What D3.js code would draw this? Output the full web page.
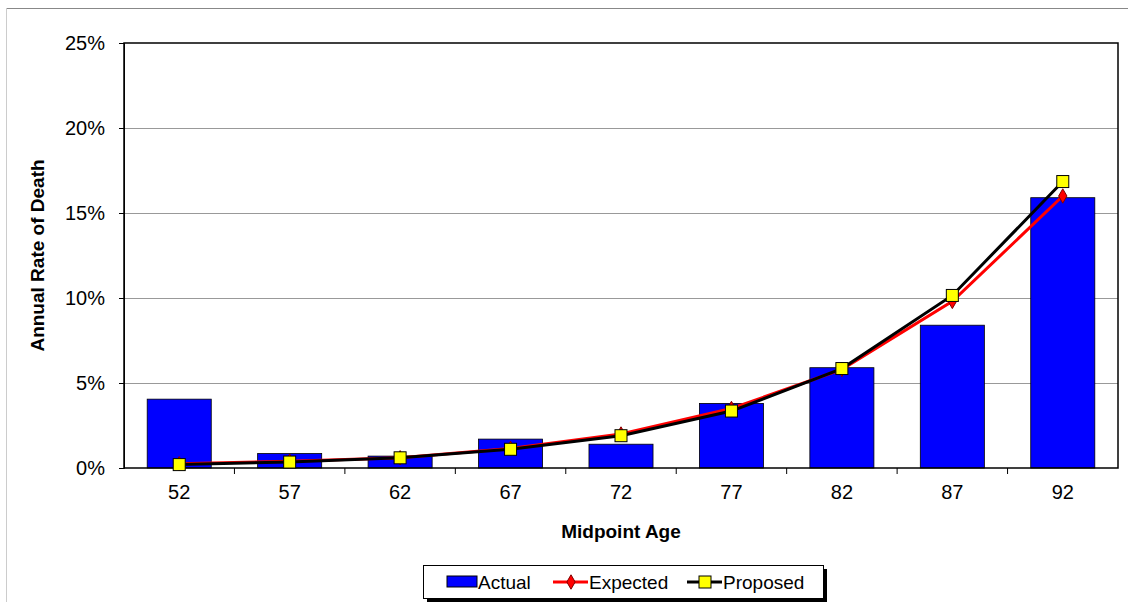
<!DOCTYPE html>
<html><head><meta charset="utf-8">
<script src="https://cdn.jsdelivr.net/npm/d3@7"></script>
<style>body{margin:0;background:#fff}text{font-family:Arial,"Liberation Sans",sans-serif}</style>
</head><body>
<script>
var ages = [52, 57, 62, 67, 72, 77, 82, 87, 92];
var actual = [4.05, 0.85, 0.7, 1.7, 1.4, 3.8, 5.9, 8.4, 15.9];
var expected = [0.25, 0.4, 0.6, 1.15, 2.0, 3.5, 5.8, 9.8, 16.0];
var proposed = [0.2, 0.35, 0.6, 1.1, 1.9, 3.35, 5.85, 10.15, 16.85];
var yTicks = [0, 5, 10, 15, 20, 25];

var svg = d3.select("body").append("svg").attr("width", 1128).attr("height", 602);

// outer chart border
svg.append("line").attr("x1", 6).attr("x2", 1128).attr("y1", 8.5).attr("y2", 8.5).attr("stroke", "#888");
svg.append("line").attr("x1", 6.5).attr("x2", 6.5).attr("y1", 8).attr("y2", 602).attr("stroke", "#ccc");

var pLeft = 124, pRight = 1118, pTop = 43, pBottom = 468;
var x = d3.scaleBand().domain(ages).range([pLeft, pRight]);
var y = d3.scaleLinear().domain([0, 25]).range([pBottom, pTop]);

// gridlines
svg.selectAll("line.grid").data(yTicks.slice(1, -1)).enter().append("line")
    .attr("x1", pLeft).attr("x2", pRight)
    .attr("y1", function (d) { return y(d) + 0.5; }).attr("y2", function (d) { return y(d) + 0.5; })
    .attr("stroke", "#999");

// bars
var bw = x.bandwidth() * 0.58;
svg.selectAll("rect.bar").data(actual).enter().append("rect")
    .attr("x", function (d, i) { return x.bandwidth() / 2 + x(ages[i]) - bw / 2; })
    .attr("y", function (d) { return y(d); })
    .attr("width", bw).attr("height", function (d) { return pBottom - y(d); })
    .attr("fill", "#0000ff").attr("stroke", "#000").attr("stroke-width", 0.8);

// axes
svg.append("g").attr("transform", "translate(" + pLeft + ",0)")
    .call(d3.axisLeft(y).tickValues(yTicks).tickFormat(function (d) { return d + "%"; }).tickSize(5))
    .call(function (g) { g.selectAll("text").style("font-size", "20px").attr("fill", "#000").attr("x", -19); });
svg.append("g").attr("transform", "translate(0," + pBottom + ")")
    .call(d3.axisBottom(x).tickSize(0))
    .call(function (g) { g.select(".domain").remove(); g.selectAll("text").style("font-size", "20px").attr("fill", "#000").attr("y", 0).attr("dy", 31); });
// category separators
svg.selectAll("line.sep").data(ages.slice(1)).enter().append("line")
    .attr("x1", function (d) { return x(d); }).attr("x2", function (d) { return x(d); })
    .attr("y1", pBottom).attr("y2", pBottom + 6).attr("stroke", "#000");
svg.append("rect").attr("x", pLeft).attr("y", pTop).attr("width", pRight - pLeft).attr("height", pBottom - pTop)
    .attr("fill", "none").attr("stroke", "#000").attr("stroke-width", 1.5);

var cx = function (d, i) { return x(ages[i]) + x.bandwidth() / 2; };
var line = d3.line().x(cx).y(function (d) { return y(d); });

svg.append("path").datum(expected).attr("d", line).attr("fill", "none").attr("stroke", "#ff0000").attr("stroke-width", 3);
svg.selectAll("path.dia").data(expected).enter().append("path")
    .attr("d", d3.symbol(d3.symbolDiamond, 60))
    .attr("transform", function (d, i) { return "translate(" + cx(d, i) + "," + y(d) + ")"; })
    .attr("fill", "#ff0000").attr("stroke", "#800000");
svg.append("path").datum(proposed).attr("d", line).attr("fill", "none").attr("stroke", "#000").attr("stroke-width", 3);
svg.selectAll("rect.sq").data(proposed).enter().append("rect")
    .attr("x", function (d, i) { return cx(d, i) - 6; }).attr("y", function (d) { return y(d) - 6; })
    .attr("width", 12).attr("height", 12).attr("fill", "#ffff00").attr("stroke", "#000");

// axis titles
svg.append("text").attr("x", (pLeft + pRight) / 2).attr("y", 538).attr("text-anchor", "middle")
    .attr("font-size", 19).attr("font-weight", "bold").text("Midpoint Age");
svg.append("text").attr("transform", "translate(44," + (pTop + pBottom) / 2 + ") rotate(-90)")
    .attr("text-anchor", "middle").attr("font-size", 19).attr("font-weight", "bold").text("Annual Rate of Death");

// legend
var lg = svg.append("g").attr("transform", "translate(423,565)");
lg.append("rect").attr("x", 4).attr("y", 4).attr("width", 400).attr("height", 33).attr("fill", "#000");
lg.append("rect").attr("x", 0.5).attr("y", 0.5).attr("width", 400).attr("height", 33).attr("fill", "#fff").attr("stroke", "#000");
lg.append("rect").attr("x", 24).attr("y", 11).attr("width", 30).attr("height", 11).attr("fill", "#0000ff").attr("stroke", "#000");
lg.append("text").attr("x", 55).attr("y", 24).attr("font-size", 19).text("Actual");
lg.append("line").attr("x1", 130).attr("x2", 165).attr("y1", 17).attr("y2", 17).attr("stroke", "#ff0000").attr("stroke-width", 3);
lg.append("path").attr("d", d3.symbol(d3.symbolDiamond, 60)).attr("transform", "translate(148,17)").attr("fill", "#ff0000").attr("stroke", "#800000");
lg.append("text").attr("x", 166).attr("y", 24).attr("font-size", 19).text("Expected");
lg.append("line").attr("x1", 264).attr("x2", 299).attr("y1", 17).attr("y2", 17).attr("stroke", "#000").attr("stroke-width", 3);
lg.append("rect").attr("x", 276).attr("y", 11).attr("width", 12).attr("height", 12).attr("fill", "#ffff00").attr("stroke", "#000");
lg.append("text").attr("x", 300).attr("y", 24).attr("font-size", 19).text("Proposed");
</script>
</body></html>
